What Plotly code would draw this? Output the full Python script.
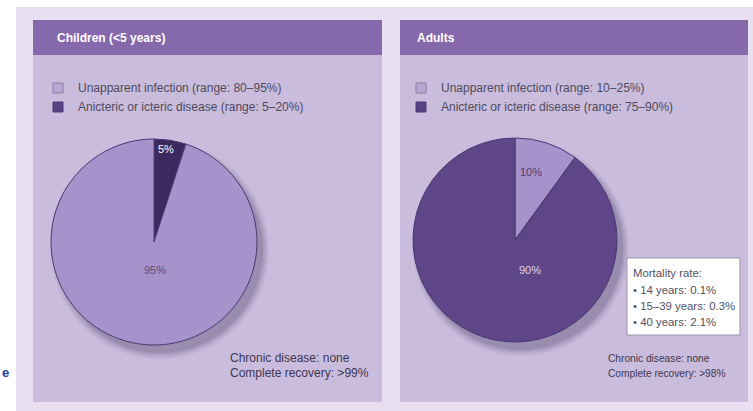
import plotly.graph_objects as go

W, H = 753, 411

# ---- data ----
panel_titles = ["Children (<5 years)", "Adults"]
slice_names = ["Unapparent infection", "Anicteric or icteric disease"]
children_ranges = ["80–95%", "5–20%"]
adult_ranges = ["10–25%", "75–90%"]
children_values = [5, 95]   # disease first, clockwise from 12 o'clock
adult_values = [10, 90]     # unapparent first, clockwise from 12 o'clock
children_recovery = ">99%"
adult_recovery = ">98%"
chronic_disease = "none"
mortality_groups = ["14 years", "15–39 years", "40 years"]
mortality_rates = [0.1, 0.3, 2.1]

# ---- colours ----
page_bg = "#e8e0f1"
panel_bg = "#c9bcdd"
header_bg = "#8668ad"
light_slice = "#a892cb"
dark_slice_children = "#3c295e"
dark_slice_adults = "#5f4688"
outline = "#4a3872"
legend_text = "#4f4a5a"
note_text = "#3e3752"
FONT = "Liberation Sans, Arial, sans-serif"


def px(x):
    return x / W


def py(y):
    return 1 - y / H


shapes = []
annotations = []


def rect(x0, y0, x1, y1, fill, line=None, lw=0):
    shapes.append(dict(type="rect", xref="paper", yref="paper",
                       x0=px(x0), x1=px(x1), y0=py(y1), y1=py(y0),
                       fillcolor=fill, line=dict(color=line or fill, width=lw),
                       layer="below"))


def circle(cx, cy, r, fill, opacity):
    shapes.append(dict(type="circle", xref="paper", yref="paper",
                       x0=px(cx - r), x1=px(cx + r), y0=py(cy + r), y1=py(cy - r),
                       fillcolor=fill, opacity=opacity, line=dict(width=0),
                       layer="below"))


def text(x, y, s, size=12, color=legend_text, bold=False, xanchor="left"):
    if bold:
        s = "<b>" + s + "</b>"
    annotations.append(dict(xref="paper", yref="paper", x=px(x), y=py(y), text=s,
                            showarrow=False, xanchor=xanchor, yanchor="middle",
                            font=dict(family=FONT, size=size, color=color)))


# page background (white strip on the left and at the top)
rect(16, 7, W, H, page_bg)

panels = [
    dict(x0=33, x1=382, title=panel_titles[0], ranges=children_ranges,
         cx=154, cy=242, r=103, values=children_values,
         colors=[dark_slice_children, light_slice], recovery=children_recovery,
         title_x=55, legend_x=53, note_x=228, note_size=12),
    dict(x0=400, x1=748, title=panel_titles[1], ranges=adult_ranges,
         cx=515, cy=240, r=102, values=adult_values,
         colors=[light_slice, dark_slice_adults], recovery=adult_recovery,
         title_x=415, legend_x=416, note_x=606, note_size=10.2),
]

traces = []
for p in panels:
    # panel body and header strip
    rect(p["x0"], 20, p["x1"], 402, panel_bg)
    rect(p["x0"], 20, p["x1"], 55, header_bg)
    text(p["title_x"], 38, p["title"], size=12, color="white", bold=True)

    # legend
    lx = p["legend_x"]
    rect(lx, 83, lx + 10, 93, "#b6a8d2", "#8a7fa0", 1)
    rect(lx, 102, lx + 10, 112, "#5a4385", "#4a3872", 1)
    text(lx + 23, 88, f"{slice_names[0]} (range: {p['ranges'][0]})")
    text(lx + 23, 107, f"{slice_names[1]} (range: {p['ranges'][1]})")

    # soft drop shadow under the pie
    for k, op in [(8, 0.05), (6, 0.07), (4, 0.09), (2, 0.12)]:
        circle(p["cx"] + 6, p["cy"] + 8, p["r"] + k - 2, "#2c1f45", op)

    traces.append(go.Pie(
        values=p["values"], sort=False, direction="clockwise", rotation=0,
        marker=dict(colors=p["colors"], line=dict(color=outline, width=1)),
        textinfo="none", hoverinfo="skip", showlegend=False,
        domain=dict(x=[px(p["cx"] - p["r"]), px(p["cx"] + p["r"])],
                    y=[py(p["cy"] + p["r"]), py(p["cy"] - p["r"])]),
    ))

    # footer notes
    text(p["note_x"], 358, f"Chronic disease: {chronic_disease}",
         size=p["note_size"], color=note_text)
    text(p["note_x"], 373, f"Complete recovery: {p['recovery']}",
         size=p["note_size"], color=note_text)

# slice value labels
text(166, 149, f"{children_values[0]}%", size=11, color="white", xanchor="center")
text(155, 270, f"{children_values[1]}%", size=11, color="#5a4a80", xanchor="center")
text(531, 172, f"{adult_values[0]}%", size=11, color="#4d3d72", xanchor="center")
text(530, 270, f"{adult_values[1]}%", size=11, color="#ddd5ec", xanchor="center")

# mortality box
rect(627, 258, 740, 335, "white", "#9a94a8", 1)
text(631, 273, "Mortality rate:", size=11.4, color="#55505f")
for i, (g, v) in enumerate(zip(mortality_groups, mortality_rates)):
    text(631, 290 + i * 16, f"• {g}: {v}%", size=11.4, color="#55505f")

# stray blue glyph at the left edge
text(0, 372, "e", size=13, color="#1a3a96", bold=True)

fig = go.Figure(traces)
fig.update_layout(
    width=W, height=H, margin=dict(l=0, r=0, t=0, b=0),
    paper_bgcolor="white", plot_bgcolor="white",
    shapes=shapes, annotations=annotations,
)
fig.write_html("out.html")
